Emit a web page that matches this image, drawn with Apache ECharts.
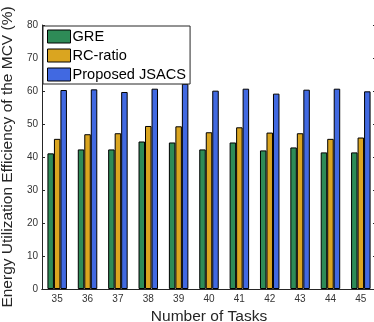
<!DOCTYPE html>
<html><head><meta charset="utf-8">
<script src="https://cdn.jsdelivr.net/npm/echarts@6/dist/echarts.min.js"></script>
<style>html,body{margin:0;padding:0;background:#fff}#c{width:374px;height:322px}</style>
</head><body><div id="c"></div>
<script>
const categories = ['35','36','37','38','39','40','41','42','43','44','45'];
const gre = [41.1, 42.3, 42.3, 44.7, 44.4, 42.3, 44.4, 42.0, 42.9, 41.4, 41.4];
const rcRatio = [45.5, 46.9, 47.2, 49.4, 49.3, 47.5, 49.0, 47.4, 47.2, 45.5, 45.9];
const jsacs = [60.3, 60.5, 59.7, 60.7, 62.2, 60.1, 60.7, 59.2, 60.4, 60.7, 59.9];
const yTicks = [0, 10, 20, 30, 40, 50, 60, 70, 80];

const font = 'Liberation Sans, Arial, sans-serif';
const axisCol = '#262626';
const chart = echarts.init(document.getElementById('c'), null, {renderer: 'canvas'});
const barStyle = (c) => ({color: c, borderColor: '#000', borderWidth: 1});
chart.setOption({
  animation: false,
  grid: {left: 42, top: 25, bottom: 33, right: -2, containLabel: false, outerBoundsMode: 'none'},
  legend: {
    orient: 'vertical', left: 43, top: 26,
    icon: 'rect',
    itemWidth: 23, itemHeight: 13, itemGap: 4,
    padding: [3, 4, 2, 4],
    backgroundColor: '#fff', borderColor: axisCol, borderWidth: 1,
    itemStyle: {borderColor: '#000', borderWidth: 1},
    textStyle: {fontFamily: font, fontSize: 14.6, color: '#000', padding: [0, 0, 0, -3]},
    data: ['GRE', 'RC-ratio', 'Proposed JSACS']
  },
  xAxis: [{
    type: 'category', data: categories,
    name: 'Number of Tasks', nameLocation: 'middle', nameGap: 19,
    nameTextStyle: {fontFamily: font, fontSize: 15.5, color: axisCol},
    axisLine: {lineStyle: {color: axisCol, width: 1}},
    axisTick: {inside: true, alignWithLabel: true, length: 3, lineStyle: {color: axisCol}},
    axisLabel: {fontFamily: font, fontSize: 10, color: '#333', margin: 5}
  }, {
    type: 'category', data: categories, position: 'top',
    axisLine: {lineStyle: {color: axisCol, width: 1}},
    axisTick: {inside: true, alignWithLabel: true, length: 3, lineStyle: {color: axisCol}},
    axisLabel: {show: false}
  }],
  yAxis: [{
    type: 'value', min: yTicks[0], max: yTicks[yTicks.length - 1], interval: 10,
    name: 'Energy Utilization Efficiency of the MCV (%)', nameLocation: 'middle', nameGap: 17,
    nameTextStyle: {fontFamily: font, fontSize: 15.5, color: axisCol},
    axisLine: {show: true, lineStyle: {color: axisCol, width: 1}},
    axisTick: {show: true, inside: true, length: 3, lineStyle: {color: axisCol}},
    axisLabel: {fontFamily: font, fontSize: 10, color: '#333', margin: 4},
    splitLine: {show: false}
  }, {
    type: 'value', min: yTicks[0], max: yTicks[yTicks.length - 1], interval: 10, position: 'right',
    axisLine: {show: true, lineStyle: {color: axisCol, width: 1}},
    axisTick: {show: true, inside: true, length: 3, lineStyle: {color: axisCol}},
    axisLabel: {show: false},
    splitLine: {show: false}
  }],
  series: [
    {name: 'GRE', type: 'bar', data: gre, barWidth: 6.5, barGap: '0%', itemStyle: barStyle('#2e8b57')},
    {name: 'RC-ratio', type: 'bar', data: rcRatio, barWidth: 6.5, barGap: '0%', itemStyle: barStyle('#daa520')},
    {name: 'Proposed JSACS', type: 'bar', data: jsacs, barWidth: 6.5, barGap: '0%', itemStyle: barStyle('#4169e1')}
  ]
});
</script></body></html>
